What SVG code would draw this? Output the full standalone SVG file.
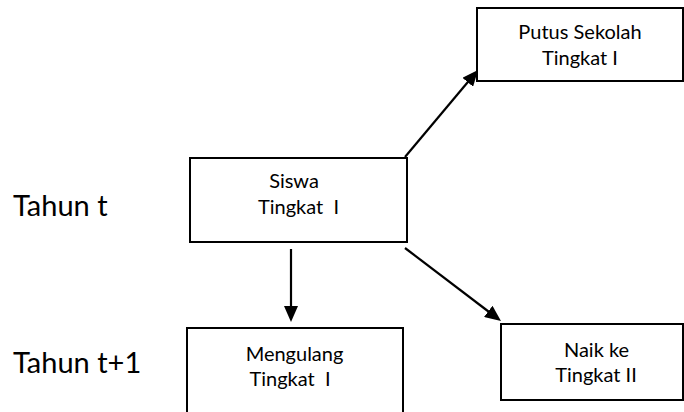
<svg xmlns="http://www.w3.org/2000/svg" width="684" height="412" viewBox="0 0 684 412">
<style>
.box{fill:#fff;stroke:#000;stroke-width:2}
.t{font-family:Lato,"Liberation Sans",sans-serif;font-size:20px;fill:#000;text-anchor:middle}
.yr{font-family:Lato,"Liberation Sans",sans-serif;font-size:29px;fill:#000}
.c{stroke:#000;stroke-width:2.2;fill:none;marker-end:url(#ah)}
</style>
<defs>
<marker id="ah" markerUnits="userSpaceOnUse" markerWidth="16" markerHeight="14" refX="11" refY="7" orient="auto">
<path d="M0,0 L16,7 L0,14 z" fill="#000"/>
</marker>
</defs>
<rect width="684" height="412" fill="#fff"/>
<g id="label-tahun-t"><text class="yr" x="13" y="216">Tahun t</text></g>
<g id="label-tahun-t1"><text class="yr" x="13" y="373">Tahun t+1</text></g>
<g id="node-siswa">
<rect class="box" x="190" y="158" width="217" height="84"/>
<text class="t" x="294" y="188">Siswa</text>
<text class="t" x="298.5" y="214" xml:space="preserve">Tingkat  I</text>
</g>
<g id="node-putus">
<rect class="box" x="477" y="8" width="206" height="73"/>
<text class="t" x="580" y="39">Putus Sekolah</text>
<text class="t" x="580" y="65">Tingkat I</text>
</g>
<g id="node-mengulang">
<rect class="box" x="187" y="328" width="216" height="92"/>
<text class="t" x="294.5" y="361">Mengulang</text>
<text class="t" x="290" y="386" xml:space="preserve">Tingkat  I</text>
</g>
<g id="node-naik">
<rect class="box" x="501" y="324" width="182" height="76"/>
<text class="t" x="596.5" y="357">Naik ke</text>
<text class="t" x="596" y="382">Tingkat II</text>
</g>
<g id="connectors">
<line class="c" x1="291" y1="249" x2="291" y2="317"/>
<line class="c" x1="405" y1="157" x2="474.8" y2="73.8"/>
<line class="c" x1="405" y1="248" x2="497" y2="318"/>
</g>
</svg>
